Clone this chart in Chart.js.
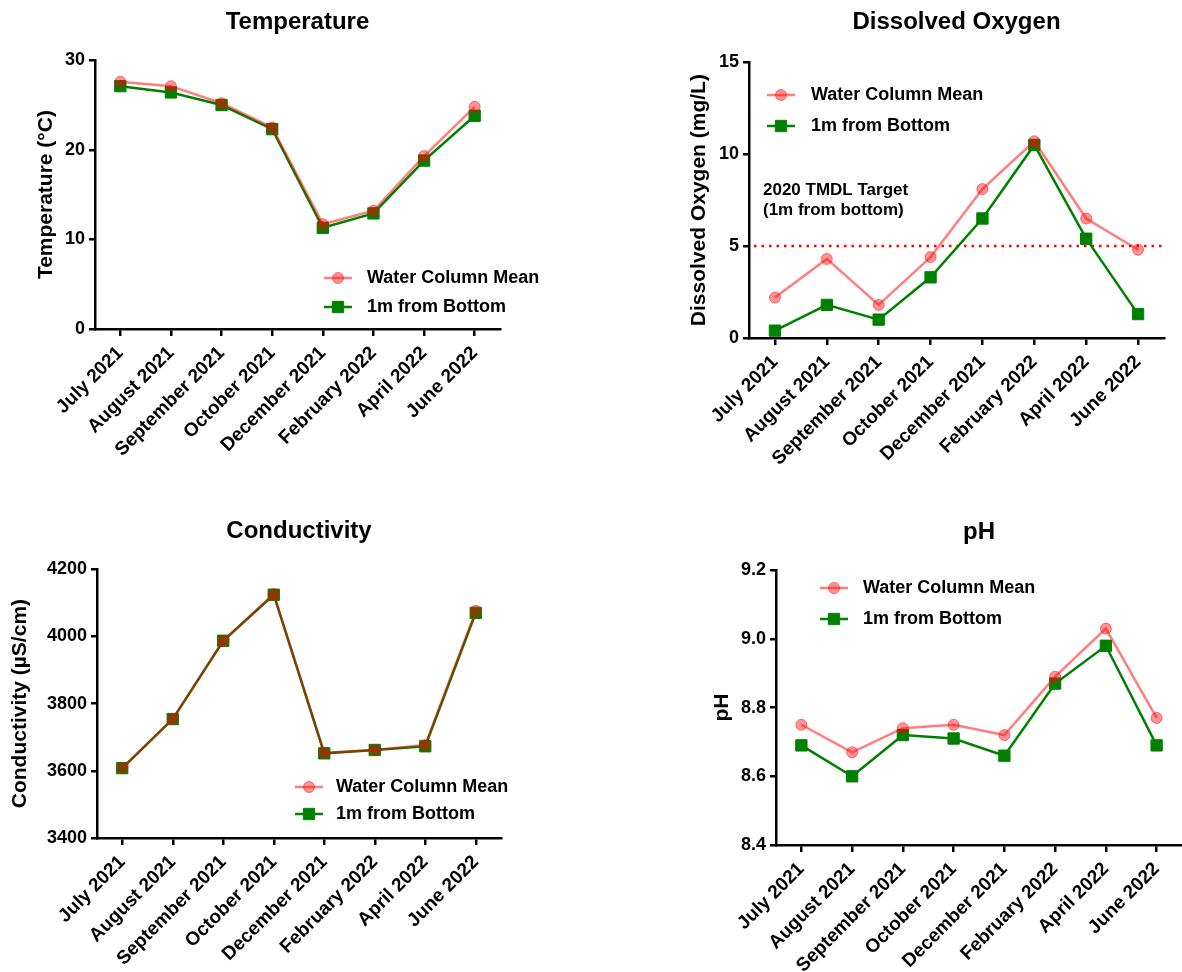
<!DOCTYPE html>
<html>
<head>
<meta charset="utf-8">
<script src="https://cdn.jsdelivr.net/npm/chart.js"></script>
<style>
  html, body { margin: 0; padding: 0; background: #fff; overflow: hidden; }
  canvas { position: absolute; }
</style>
</head>
<body>
<canvas id="tempChart" width="591" height="486" style="left:0;top:0"></canvas>
<canvas id="doChart" width="591" height="486" style="left:591px;top:0"></canvas>
<canvas id="condChart" width="591" height="486" style="left:0;top:486px"></canvas>
<canvas id="phChart" width="600" height="486" style="left:591px;top:486px"></canvas>
<script>
// sampling dates shared by all four panels
const months = ['July 2021', 'August 2021', 'September 2021', 'October 2021',
                'December 2021', 'February 2022', 'April 2022', 'June 2022'];
const seriesNames = ['Water Column Mean', '1m from Bottom'];

const tempMean = [27.6, 27.1, 25.2, 22.5, 11.7, 13.2, 19.3, 24.8];
const tempBottom = [27.1, 26.4, 25.0, 22.3, 11.3, 12.9, 18.8, 23.8];
const tempTicks = [0, 10, 20, 30];

const doMean = [2.2, 4.3, 1.8, 4.4, 8.1, 10.7, 6.5, 4.8];
const doBottom = [0.4, 1.8, 1.0, 3.3, 6.5, 10.5, 5.4, 1.3];
const doTicks = [0, 5, 10, 15];
const doTarget = 5;
const doTargetLabel = ['2020 TMDL Target', '(1m from bottom)'];

const condMean = [3608, 3754, 3987, 4126, 3653, 3662, 3677, 4076];
const condBottom = [3608, 3754, 3987, 4124, 3652, 3662, 3673, 4070];
const condTicks = [3400, 3600, 3800, 4000, 4200];

const phMean = [8.75, 8.67, 8.74, 8.75, 8.72, 8.89, 9.03, 8.77];
const phBottom = [8.69, 8.60, 8.72, 8.71, 8.66, 8.87, 8.98, 8.69];
const phTicks = [8.4, 8.6, 8.8, 9.0, 9.2];

const FONT = "'Liberation Sans', Arial, sans-serif";
Chart.defaults.font.family = FONT;
Chart.defaults.color = '#000';

// legend drawn inside the plot area, like the original figure
const insideLegend = {
  id: 'insideLegend',
  afterDraw(chart, args, opts) {
    const ctx = chart.ctx;
    ctx.save();
    chart.data.datasets.forEach((ds, i) => {
      const y = opts.rows[i];
      ctx.strokeStyle = ds.borderColor;
      ctx.lineWidth = ds.borderWidth;
      ctx.beginPath();
      ctx.moveTo(opts.x, y);
      ctx.lineTo(opts.x + opts.width, y);
      ctx.stroke();
      const cx = opts.x + opts.width / 2;
      ctx.fillStyle = ds.backgroundColor;
      ctx.lineWidth = ds.pointBorderWidth;
      ctx.beginPath();
      if (ds.pointStyle === 'rect') {
        const s = ds.pointRadius * Math.SQRT1_2;
        ctx.rect(cx - s, y - s, 2 * s, 2 * s);
      } else {
        ctx.arc(cx, y, ds.pointRadius, 0, Math.PI * 2);
      }
      ctx.fill();
      ctx.stroke();
      ctx.fillStyle = '#000';
      ctx.font = 'bold 18px ' + FONT;
      ctx.textBaseline = 'middle';
      ctx.textAlign = 'left';
      ctx.fillText(ds.label, opts.textX, y);
    });
    ctx.restore();
  }
};

// dotted TMDL target line + its note
const targetLine = {
  id: 'targetLine',
  beforeDatasetsDraw(chart, args, opts) {
    if (!opts.enabled) return;
    const {ctx, chartArea} = chart;
    const y = chart.scales.y.getPixelForValue(doTarget);
    ctx.save();
    ctx.strokeStyle = '#ff0000';
    ctx.lineWidth = 2.5;
    ctx.setLineDash([2.5, 5]);
    ctx.beginPath();
    ctx.moveTo(chartArea.left + 5, y);
    ctx.lineTo(chartArea.right, y);
    ctx.stroke();
    ctx.setLineDash([]);
    ctx.fillStyle = '#000';
    ctx.font = 'bold 17px ' + FONT;
    ctx.textBaseline = 'middle';
    doTargetLabel.forEach((t, i) => ctx.fillText(t, opts.x, opts.rows[i]));
    ctx.restore();
  }
};

function makeChart(id, c) {
  const canvas = document.getElementById(id);
  const W = canvas.width, H = canvas.height;
  const axisLine = { display: true, color: '#000', width: 2.5 };
  return new Chart(canvas, {
    type: 'line',
    data: {
      labels: months,
      datasets: [{
        label: seriesNames[0],
        data: c.mean,
        borderColor: 'rgba(255,0,0,0.5)',
        backgroundColor: 'rgba(255,0,0,0.42)',
        borderWidth: 2.5,
        pointStyle: 'circle',
        pointRadius: 5.5,
        pointBorderWidth: 1
      }, {
        label: seriesNames[1],
        data: c.bottom,
        borderColor: '#008000',
        backgroundColor: '#008000',
        borderWidth: 2.5,
        pointStyle: 'rect',
        pointRadius: 8,
        pointBorderWidth: 1
      }]
    },
    options: {
      responsive: false,
      animation: false,
      layout: { padding: { left: 0, top: 0, bottom: 0, right: W - c.area.right } },
      plugins: {
        legend: { display: false },
        tooltip: { enabled: false },
        title: {
          display: true,
          text: c.title,
          fullSize: false,
          color: '#000',
          font: { size: 24, weight: 'bold' },
          padding: c.titlePad
        },
        insideLegend: c.legend,
        targetLine: c.target || { enabled: false }
      },
      scales: {
        x: {
          offset: true,
          border: axisLine,
          grid: { drawOnChartArea: false, drawTicks: true, tickLength: 7, color: '#000', lineWidth: 2.5, offset: false },
          ticks: { autoSkip: false, maxRotation: 45, minRotation: 45, padding: 6, color: '#000', font: { size: 19, weight: 'bold' } },
          afterFit: s => { s.height = H - c.area.bottom; }
        },
        y: {
          min: c.ticks[0],
          max: c.ticks[c.ticks.length - 1],
          border: axisLine,
          grid: { drawOnChartArea: false, drawTicks: true, tickLength: 6, color: '#000', lineWidth: 2.5 },
          ticks: {
            padding: 4, color: '#000', font: { size: 18, weight: 'bold' },
            callback: v => v.toFixed(c.decimals)
          },
          afterBuildTicks: s => { s.ticks = c.ticks.map(v => ({ value: v })); },
          title: {
            display: true, text: c.yTitle, color: '#000',
            font: { size: 21, weight: 'bold' },
            padding: { top: c.yTitleOffset, bottom: 0 }
          },
          afterFit: s => { s.width = c.area.left; }
        }
      }
    },
    plugins: [insideLegend, targetLine]
  });
}

makeChart('tempChart', {
  mean: tempMean, bottom: tempBottom, ticks: tempTicks, decimals: 0,
  title: 'Temperature', yTitle: 'Temperature (°C)',
  area: { left: 95, right: 500, bottom: 329 },
  titlePad: { top: 8, bottom: 23.4 }, yTitleOffset: 33.5,
  legend: { x: 324, width: 28, textX: 367, rows: [278, 307] }
});

makeChart('doChart', {
  mean: doMean, bottom: doBottom, ticks: doTicks, decimals: 0,
  title: 'Dissolved Oxygen', yTitle: 'Dissolved Oxygen (mg/L)',
  area: { left: 158, right: 573, bottom: 338 },
  titlePad: { top: 8, bottom: 25.4 }, yTitleOffset: 95.5,
  legend: { x: 176, width: 28, textX: 220, rows: [95, 126] },
  target: { enabled: true, x: 172, rows: [190, 210] }
});

makeChart('condChart', {
  mean: condMean, bottom: condBottom, ticks: condTicks, decimals: 0,
  title: 'Conductivity', yTitle: 'Conductivity (µS/cm)',
  area: { left: 97, right: 501, bottom: 352 },
  titlePad: { top: 30.7, bottom: 23.7 }, yTitleOffset: 8,
  legend: { x: 295, width: 28, textX: 336, rows: [301, 328] }
});

makeChart('phChart', {
  mean: phMean, bottom: phBottom, ticks: phTicks, decimals: 1,
  title: 'pH', yTitle: 'pH',
  area: { left: 185, right: 595, bottom: 359 },
  titlePad: { top: 32.2, bottom: 23.2 }, yTitleOffset: 118.5,
  legend: { x: 229, width: 28, textX: 272, rows: [102, 133] }
});
</script>
</body>
</html>
